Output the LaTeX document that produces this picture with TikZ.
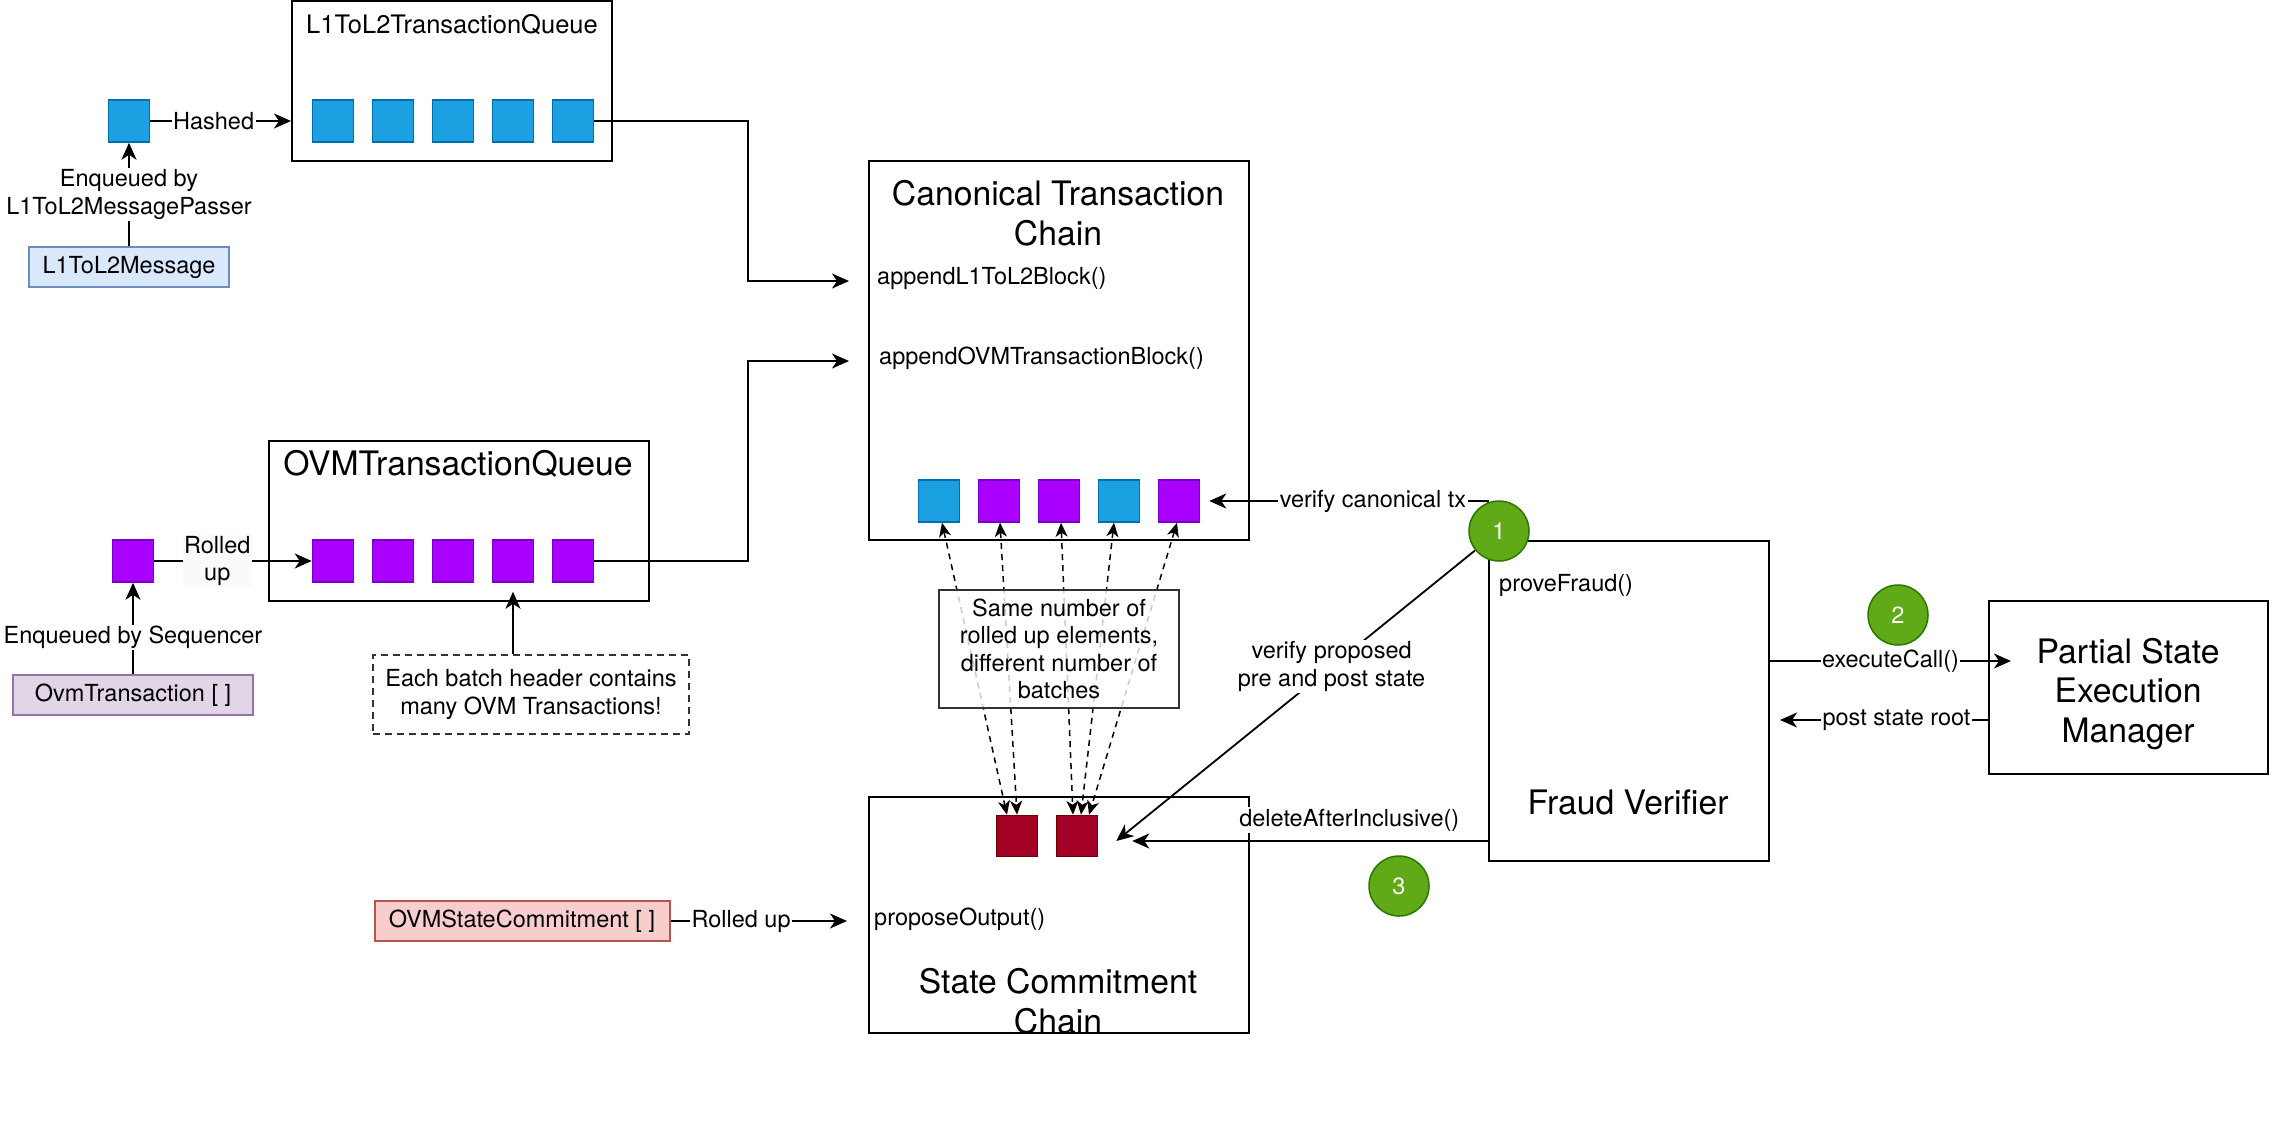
\documentclass[tikz,border=0pt]{standalone}
\usepackage{fontspec}
\setmainfont{TeX Gyre Heros}
\usetikzlibrary{arrows.meta,calc}
\definecolor{sqblue}{HTML}{1BA1E2}
\definecolor{sqbluel}{HTML}{006EAF}
\definecolor{sqpur}{HTML}{AA00FF}
\definecolor{sqpurl}{HTML}{7700CC}
\definecolor{sqred}{HTML}{A20025}
\definecolor{sqredl}{HTML}{6F0000}
\definecolor{grn}{HTML}{60A917}
\definecolor{grnl}{HTML}{2D7600}
\definecolor{bluebg}{HTML}{DAE8FC}
\definecolor{bluebd}{HTML}{6C8EBF}
\definecolor{purbg}{HTML}{E1D5E7}
\definecolor{purbd}{HTML}{9673A6}
\definecolor{redbg}{HTML}{F8CECC}
\definecolor{redbd}{HTML}{B85450}
\newcommand\lbfont{\fontsize{23.5}{27.5}\selectfont}
\newcommand\ttfontx{\fontsize{33.7}{39.5}\selectfont}
\newcommand\qfont{\fontsize{25.5}{30}\selectfont}
\begin{document}
\begin{tikzpicture}[x=1pt,y=-1pt,
  box/.style={draw, line width=2pt, inner sep=0pt},
  sq/.style={draw, line width=1.5pt, minimum width=41pt, minimum height=42pt, inner sep=0pt},
  bsq/.style={sq, fill=sqblue, draw=sqbluel},
  psq/.style={sq, fill=sqpur, draw=sqpurl},
  rsq/.style={sq, fill=sqred, draw=sqredl, minimum height=41pt},
  txt/.style={inner sep=0pt, font=\lbfont},
  lbl/.style={inner sep=1.5pt, fill=white, font=\lbfont, align=center},
  title/.style={inner sep=0pt, font=\ttfontx, align=center},
  arr/.style={line width=1.8pt, -{Stealth[length=17pt,width=15pt,inset=5pt]}},
  darr/.style={line width=1.5pt, dash pattern=on 6pt off 5pt, {Stealth[length=14pt,width=12pt,inset=4pt]}-{Stealth[length=14pt,width=12pt,inset=4pt]}},
  stepnum/.style={circle, draw=grnl, line width=1.5pt, fill=grn, minimum size=60pt, inner sep=0pt, text=white, font=\lbfont},
  msg/.style={draw, line width=2pt, minimum height=40pt, inner sep=0pt, font=\lbfont},
]
\useasboundingbox (0,0) rectangle (2270,1122);

% ---------- L1ToL2 queue ----------
\node[box, minimum width=320pt, minimum height=160pt] (l1q) at (452,81) {};
\node[inner sep=0pt, font=\qfont] (l1qt) at (452,25) {L1ToL2TransactionQueue};
\foreach \i/\x in {1/333,2/393,3/453,4/513,5/573} \node[bsq] (lq\i) at (\x,121) {};
\node[bsq] (lmsg) at (129,121) {};
\node[msg, fill=bluebg, draw=bluebd, minimum width=200pt] (l1m) at (129,267) {L1ToL2Message};
\draw[arr] (l1m) -- node[lbl]{Enqueued by\\L1ToL2MessagePasser} (lmsg);
\draw[arr] (lmsg) -- node[lbl, pos=0.45]{Hashed} (lmsg -| l1q.west);

% ---------- OVM queue ----------
\node[box, minimum width=380pt, minimum height=160pt] (oq) at (459,521) {};
\node[title] (oqt) at (458,464) {OVMTransactionQueue};
\foreach \i/\x in {1/333,2/393,3/453,4/513,5/573} \node[psq] (oq\i) at (\x,561) {};
\node[psq] (otx) at (133,561) {};
\node[msg, fill=purbg, draw=purbd, minimum width=240pt] (ovt) at (133,695) {OvmTransaction [ ]};
\draw[arr] (ovt) -- node[lbl, pos=0.4]{Enqueued by Sequencer} (otx);
\draw[arr] (otx) -- node[lbl, pos=0.4, fill=gray!4]{Rolled\\up} (oq1);
\node[draw=black!80, dash pattern=on 7pt off 5pt, line width=1.5pt, minimum width=316pt, minimum height=79pt, align=center, font=\lbfont] (note) at (531,694.5) {Each batch header contains\\many OVM Transactions!};
\draw[arr] (note.north -| oq4) -- ($(oq4.south)+(0,9)$);

% ---------- Canonical Transaction Chain ----------
\node[box, minimum width=380pt, minimum height=379pt] (ctc) at (1059,350.5) {};
\node[title] (ctct) at (1058,213) {Canonical Transaction\\Chain};
\node[txt, anchor=west] (apl1) at (877,278) {appendL1ToL2Block()};
\node[txt, anchor=west] (apovm) at (879,358) {appendOVMTransactionBlock()};
\node[bsq] (c1) at (939,501) {};
\node[psq] (c2) at (999,501) {};
\node[psq] (c3) at (1059,501) {};
\node[bsq] (c4) at (1119,501) {};
\node[psq] (c5) at (1179,501) {};

\coordinate (inl1) at (849,281);
\coordinate (inovm) at (849,361);
\coordinate (bendA) at (748,281);
\coordinate (bendB) at (748,361);
\draw[arr] (lq5.east) -| (bendA) -- (inl1);
\draw[arr] (oq5.east) -| (bendB) -- (inovm);

% ---------- State Commitment Chain ----------
\node[box, minimum width=380pt, minimum height=236pt] (scc) at (1059,915) {};
\node[title] (scct) at (1058,1001) {State Commitment\\Chain};
\node[txt, anchor=west] (prop) at (874,919) {proposeOutput()};
\node[rsq] (r1) at (1017,836) {};
\node[rsq] (r2) at (1077,836) {};
\node[msg, fill=redbg, draw=redbd, minimum width=295pt] (osc) at (522,921) {OVMStateCommitment [ ]};
\draw[arr] (osc) -- node[lbl, pos=0.4]{Rolled up} ($(scc.west |- osc)+(-21,0)$);

% dashed links
\draw[darr] ($(c1.south)+(3,0)$) -- ($(r1.north)+(-10,0)$);
\draw[darr] ($(c2.south)+(1,0)$) -- ($(r1.north)+(0,0)$);
\draw[darr] ($(c3.south)+(2,0)$) -- ($(r2.north)+(-4,0)$);
\draw[darr] ($(c4.south)+(-5,0)$) -- ($(r2.north)+(4,0)$);
\draw[darr] ($(c5.south)+(-2,0)$) -- ($(r2.north)+(12,0)$);
\node[draw=black!80, line width=1.5pt, fill=white, fill opacity=0.8, text opacity=1, minimum width=240pt, minimum height=118pt, align=center, font=\lbfont] (same) at (1059,649) {Same number of\\rolled up elements,\\different number of\\batches};

% ---------- Fraud Verifier ----------
\node[box, minimum width=280pt, minimum height=320pt] (fv) at (1629,701) {};
\node[title] (fvt) at (1628,802) {Fraud Verifier};
\node[txt, anchor=west] (pf) at (1499,585) {proveFraud()};
\draw[arr, shorten >=9pt] (fv.north west) |- node[lbl, pos=0.70]{verify canonical tx} (c5.east);

% ---------- PSEM ----------
\node[box, minimum width=279pt, minimum height=173pt] (psem) at (2128.5,687.5) {};
\node[title] (psemt) at (2128,694) {Partial State\\Execution\\Manager};

% ---------- steps ----------
\node[stepnum] (n1) at (1499,531) {1};
\node[stepnum] (n2) at (1898,615) {2};
\node[stepnum] (n3) at (1399,886) {3};

\draw[arr] (n1) -- node[lbl, pos=0.4]{verify proposed\\pre and post state} ($(r2.east)+(18,5)$);
\draw[arr] ($(fv.west)+(0,140)$) -- node[lbl, pos=0.39, yshift=21pt]{deleteAfterInclusive()} ($(r2.east)+(34,5)$);
\draw[arr] ($(fv.east)+(0,-40)$) -- node[lbl]{executeCall()} ($(psem.west)+(23,-26.5)$);
\draw[arr] ($(psem.west)+(0,32.5)$) -- node[lbl, pos=0.44]{post state root} ($(fv.east)+(10,19)$);
\end{tikzpicture}
\end{document}
